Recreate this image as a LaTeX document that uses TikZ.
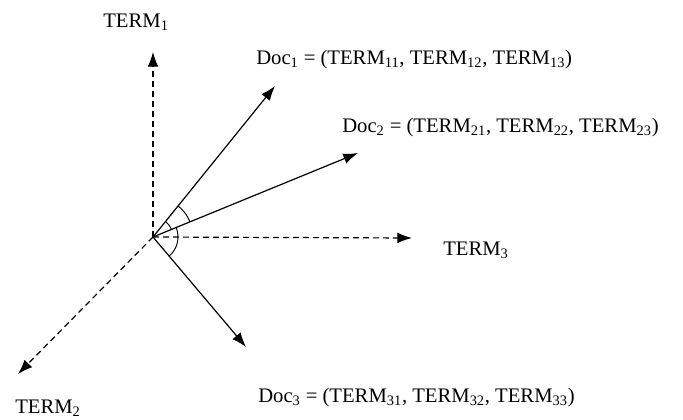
\documentclass[tikz,border=0pt]{standalone}
\usepackage{fontspec}
\setmainfont{Liberation Serif}
\usetikzlibrary{arrows.meta}
\begin{document}
\begin{tikzpicture}[x=0.75pt,y=0.75pt,
  vec/.style={line width=0.9pt,-{Latex[length=11pt,width=8pt]}},
  axis/.style={vec,dash pattern=on 4.5pt off 3pt},
  lbl/.style={font=\fontsize{15.5}{18}\selectfont,inner sep=0pt,anchor=west},
  angarc/.style={line width=0.7pt}]
\useasboundingbox (0,0) rectangle (683,419);
\coordinate (O) at (153,182);
% axes
\coordinate (t1) at (153,367);
\coordinate (t2) at (18,45);
\coordinate (t3) at (412,181);
% document vectors
\coordinate (d1) at (275,333);
\coordinate (d2) at (358,266);
\coordinate (d3) at (246,72);
\draw[axis] (O) -- (t1);
\draw[axis] (O) -- (t2);
\draw[axis] (O) -- (t3);
\draw[vec] (O) -- (d1);
\draw[vec] (O) -- (d2);
\draw[vec] (O) -- (d3);
% angle marks
\draw[angarc] ([shift={(51:40)}]O) arc[start angle=51,end angle=22.3,radius=40];
\draw[angarc] ([shift={(51:20)}]O) arc[start angle=51,end angle=22.3,radius=20];
\draw[angarc] ([shift={(22.3:25)}]O) arc[start angle=22.3,end angle=-49.8,radius=25];
% labels
\node[lbl,anchor=center] (lt1) at (136,397) {TERM\textsubscript{1}};
\node[lbl] (lt2) at (15,11) {TERM\textsubscript{2}};
\node[lbl] (lt3) at (443,169) {TERM\textsubscript{3}};
\node[lbl] (ld1) at (256,359) {Doc\textsubscript{1} = (TERM\textsubscript{11}, TERM\textsubscript{12}, TERM\textsubscript{13})};
\node[lbl] (ld2) at (342,291) {Doc\textsubscript{2} = (TERM\textsubscript{21}, TERM\textsubscript{22}, TERM\textsubscript{23})};
\node[lbl] (ld3) at (258,21) {Doc\textsubscript{3} = (TERM\textsubscript{31}, TERM\textsubscript{32}, TERM\textsubscript{33})};
\end{tikzpicture}
\end{document}
